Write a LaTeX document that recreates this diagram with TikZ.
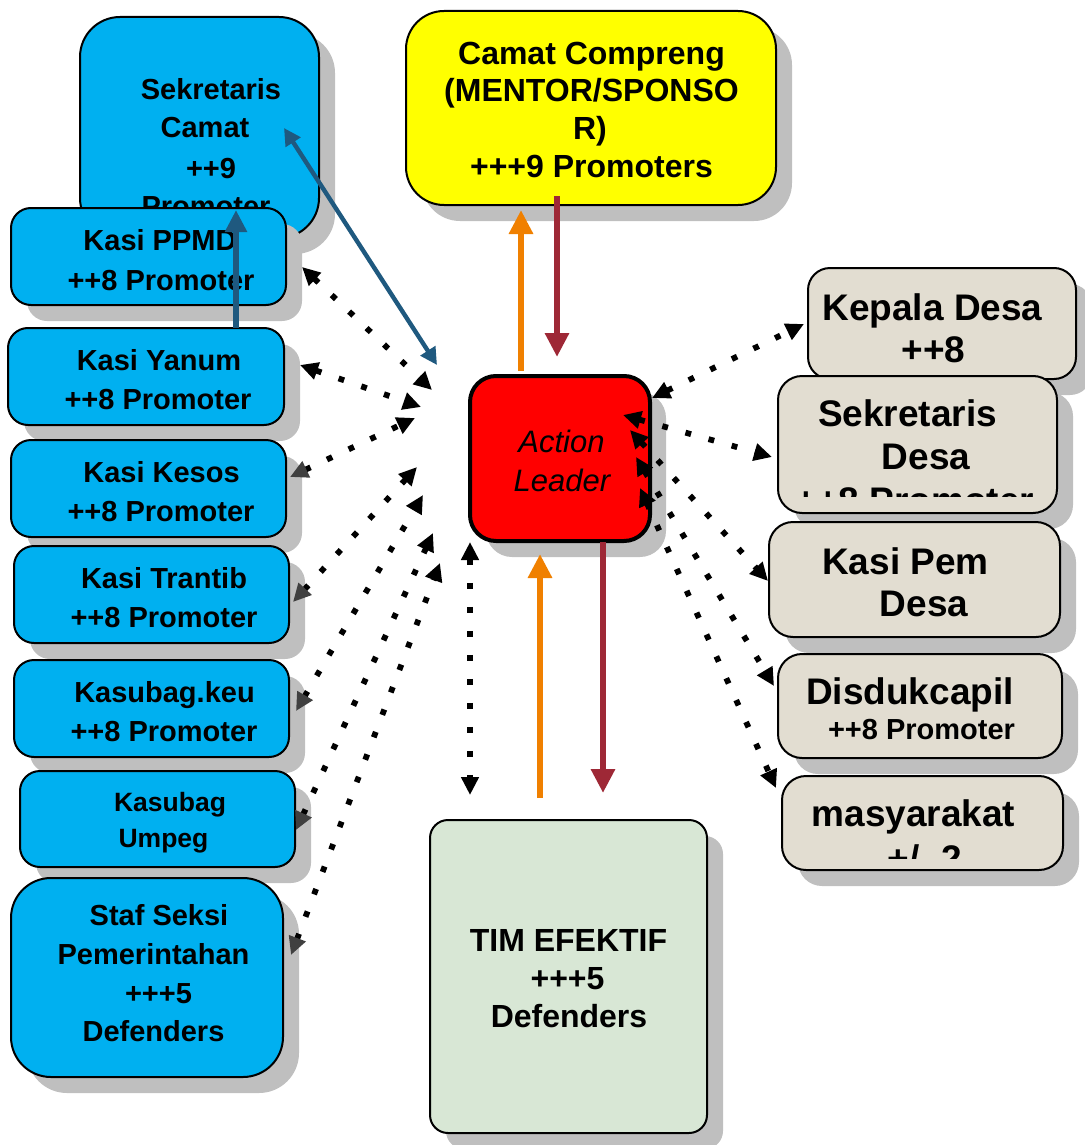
\documentclass[tikz,border=0pt]{standalone}
\usepackage{fontspec}
\setmainfont{Liberation Sans}
\usetikzlibrary{arrows.meta,shadows,fit}
\definecolor{cblue}{RGB}{0,176,240}
\definecolor{cyel}{RGB}{255,255,0}
\definecolor{cred}{RGB}{255,0,0}
\definecolor{cgreen}{RGB}{216,231,213}
\definecolor{cbeige}{RGB}{226,221,209}
\definecolor{cshadow}{RGB}{191,191,191}
\definecolor{corange}{RGB}{240,128,0}
\definecolor{cmaroon}{RGB}{158,40,54}
\definecolor{cteal}{RGB}{31,89,127}
\definecolor{cdgray}{RGB}{64,64,64}
\begin{document}
\begin{tikzpicture}[x=0.5pt,y=-0.5pt,
  box/.style={draw=black, line width=1pt, inner sep=0pt, rectangle,
    drop shadow={shadow xshift=8pt, shadow yshift=-8pt, fill=cshadow, opacity=1}},
  tl/.style={font=\fontsize{14.5}{17}\selectfont\bfseries, anchor=base, inner sep=0pt},
  tr/.style={font=\fontsize{18.5}{21}\selectfont\bfseries, anchor=base, inner sep=0pt},
  tc/.style={font=\fontsize{16}{19}\selectfont\bfseries, anchor=base, inner sep=0pt},
  tu/.style={font=\fontsize{13.25}{16}\selectfont\bfseries, anchor=base, inner sep=0pt},
  ta/.style={font=\fontsize{15.5}{18}\selectfont\itshape, anchor=base, inner sep=0pt},
  dots/.style={line width=2.9pt, dash pattern=on 2.9pt off 9.1pt},
  dd/.style={dots, arrows={Triangle[length=9pt,width=8.5pt]-Triangle[length=9pt,width=8.5pt]}},
  gd/.style={dots, arrows={Triangle[length=9pt,width=8.5pt,color=cdgray]-Triangle[length=9pt,width=8.5pt]}},
  bigup/.style={line width=3.2pt, -{Triangle[length=12pt,width=11.5pt]}}
]
\useasboundingbox (0,0) rectangle (1084,1145);

% ---- left column ----
\node[box, fill=cblue, rounded corners=20pt, fit={(80,17) (319,238)}] (sc) {};
\node[tl] (sc1) at (211,99) {Sekretaris};
\node[tl] (sc2) at (205,138) {Camat};
\node[tl] (sc3) at (211,178) {++9};
\node[tl] (sc4) at (206,216) {Promoter};

\node[box, fill=cblue, rounded corners=10pt, fit={(11,208) (286,305)}] (ppmd) {};
\node[tl] (ppmd1) at (160,250) {Kasi PPMD};
\node[tl] (ppmd2) at (161,290) {++8 Promoter};

\node[box, fill=cblue, rounded corners=10pt, fit={(8,328) (284,425)}] (yanum) {};
\node[tl] (yanum1) at (159,370) {Kasi Yanum};
\node[tl] (yanum2) at (158,409) {++8 Promoter};

\node[box, fill=cblue, rounded corners=10pt, fit={(11,440) (286,537)}] (kesos) {};
\node[tl] (kesos1) at (161.5,482) {Kasi Kesos};
\node[tl] (kesos2) at (161,521) {++8 Promoter};

\node[box, fill=cblue, rounded corners=10pt, fit={(14,546) (289,643)}] (trantib) {};
\node[tl] (trantib1) at (164,588) {Kasi Trantib};
\node[tl] (trantib2) at (164,627) {++8 Promoter};

\node[box, fill=cblue, rounded corners=10pt, fit={(14,660) (289,757)}] (keu) {};
\node[tl] (keu1) at (164.5,702) {Kasubag.keu};
\node[tl] (keu2) at (164,741) {++8 Promoter};

\node[box, fill=cblue, rounded corners=10pt, fit={(20,771) (295,867)}] (umpeg) {};
\node[tu] (umpeg1) at (170,811.5) {Kasubag};
\node[tu] (umpeg2) at (163.5,847.5) {Umpeg};

\node[box, fill=cblue, rounded corners=20pt, fit={(11,878) (283,1077)}] (staf) {};
\node[tl] (staf1) at (159,925) {Staf Seksi};
\node[tl] (staf2) at (153.5,964) {Pemerintahan};
\node[tl] (staf3) at (158.5,1003) {+++5};
\node[tl] (staf4) at (153.5,1041) {Defenders};

% ---- centre ----
\node[box, fill=cyel, rounded corners=19pt, fit={(406,11) (776,205)}] (camat) {};
\node[tc] (camat1) at (591.5,64.5) {Camat Compreng};
\node[tc] (camat2) at (591.5,101.5) {(MENTOR/SPONSO};
\node[tc] (camat3) at (590,139.5) {R)};
\node[tc] (camat4) at (591.5,177.5) {+++9 Promoters};

\node[box, fill=cred, line width=2pt, rounded corners=13pt, fit={(470,376) (650,541)}] (al) {};
\node[ta] (al1) at (561.5,452) {Action};
\node[ta] (al2) at (562,491) {Leader};

\node[box, fill=cgreen, rounded corners=9pt, fit={(430,820) (707,1133)}] (tim) {};
\node[tc] (tim1) at (568.5,951.5) {TIM EFEKTIF};
\node[tc] (tim2) at (567.5,989.5) {+++5};
\node[tc] (tim3) at (569,1027.5) {Defenders};

% ---- right column ----
\node[box, fill=cbeige, rounded corners=11pt, fit={(808,268) (1076,379)}] (kd) {};
\node[tr] (kd1) at (932.5,320) {Kepala Desa};
\node[tr] (kd2) at (933.5,362) {++8};

\node[box, fill=cbeige, rounded corners=12pt, fit={(778,376) (1057,513)}] (sd) {};
\node[tr] (sd1) at (907.5,426) {Sekretaris};
\node[tr] (sd2) at (926,469) {Desa};
\begin{scope}
  \clip (770,380) rectangle (1060,496);
  \node[tr] (sd3) at (915,513) {++8 Promoter};
\end{scope}

\node[box, fill=cbeige, rounded corners=12pt, fit={(769,522) (1060,637)}] (kp) {};
\node[tr] (kp1) at (905.5,574) {Kasi Pem};
\node[tr] (kp2) at (924,616) {Desa};

\node[box, fill=cbeige, rounded corners=12pt, fit={(778,654) (1062,758)}] (dk) {};
\node[tr] (dk1) at (910,704) {Disdukcapil};
\node[tl] (dk2) at (921.5,739) {++8 Promoter};

\node[box, fill=cbeige, rounded corners=12pt, fit={(782,776) (1063,870)}] (ms) {};
\node[tr] (ms1) at (913.5,826) {masyarakat};
\begin{scope}
  \clip (775,780) rectangle (1065,858);
  \node[tr] (ms2) at (925,871) {+/- 2};
\end{scope}

% ---- connector end points ----
\coordinate (ppmdA) at (302,267);  \coordinate (alA) at (432,390);
\coordinate (yanumA) at (300,365); \coordinate (alB) at (421,407);
\coordinate (kesosA) at (290,477); \coordinate (alC) at (415,418);
\coordinate (trantibA) at (293,602); \coordinate (alD) at (417,467);
\coordinate (keuA) at (296,711);   \coordinate (alE) at (423,495);
\coordinate (umpegA) at (296,830); \coordinate (alF) at (433,533);
\coordinate (stafA) at (291,955);  \coordinate (alG) at (440,563);
\coordinate (alH) at (470,542);    \coordinate (timA) at (470,795);
\coordinate (alI) at (652,398);    \coordinate (kdA) at (804,324);
\coordinate (alJ) at (623,415);    \coordinate (sdA) at (772,457);
\coordinate (alK) at (630,430);    \coordinate (kpA) at (768,581);
\coordinate (alL) at (636,457);    \coordinate (dkA) at (774,686);
\coordinate (alM) at (640,488);    \coordinate (msA) at (776,788);
\coordinate (yanumT) at (236,328); \coordinate (scB) at (236,210);
\coordinate (scC) at (284,128);    \coordinate (alN) at (437,365);
\coordinate (alTo) at (521,371);   \coordinate (camatBo) at (521,210);
\coordinate (camatBr) at (557,196); \coordinate (alTr) at (557,357);
\coordinate (timTo) at (540,798);  \coordinate (alBo) at (540,554);
\coordinate (alBr) at (603,542);   \coordinate (timTr) at (603,793);

% ---- dotted connectors ----
\draw[dd] (ppmdA) -- (alA);
\draw[dd] (yanumA) -- (alB);
\draw[gd] (kesosA) -- (alC);
\draw[gd] (trantibA) -- (alD);
\draw[gd] (keuA) -- (alE);
\draw[gd] (umpegA) -- (alF);
\draw[gd] (stafA) -- (alG);
\draw[dd] (alH) -- (timA);
\draw[dd] (alI) -- (kdA);
\draw[dd] (alJ) -- (sdA);
\draw[dd] (alK) -- (kpA);
\draw[dd] (alL) -- (dkA);
\draw[dd] (alM) -- (msA);

% ---- blue connectors ----
\draw[cteal, line width=3.2pt, -{Triangle[length=11pt,width=10.5pt]}] (yanumT) -- (scB);
\draw[cteal, line width=2.2pt, {Triangle[length=8.5pt,width=8.5pt]}-{Triangle[length=8.5pt,width=8.5pt]}] (scC) -- (alN);

% ---- orange / maroon connectors ----
\draw[bigup, corange] (alTo) -- (camatBo);
\draw[bigup, cmaroon] (camatBr) -- (alTr);
\draw[bigup, corange] (timTo) -- (alBo);
\draw[bigup, cmaroon] (alBr) -- (timTr);
\end{tikzpicture}
\end{document}
